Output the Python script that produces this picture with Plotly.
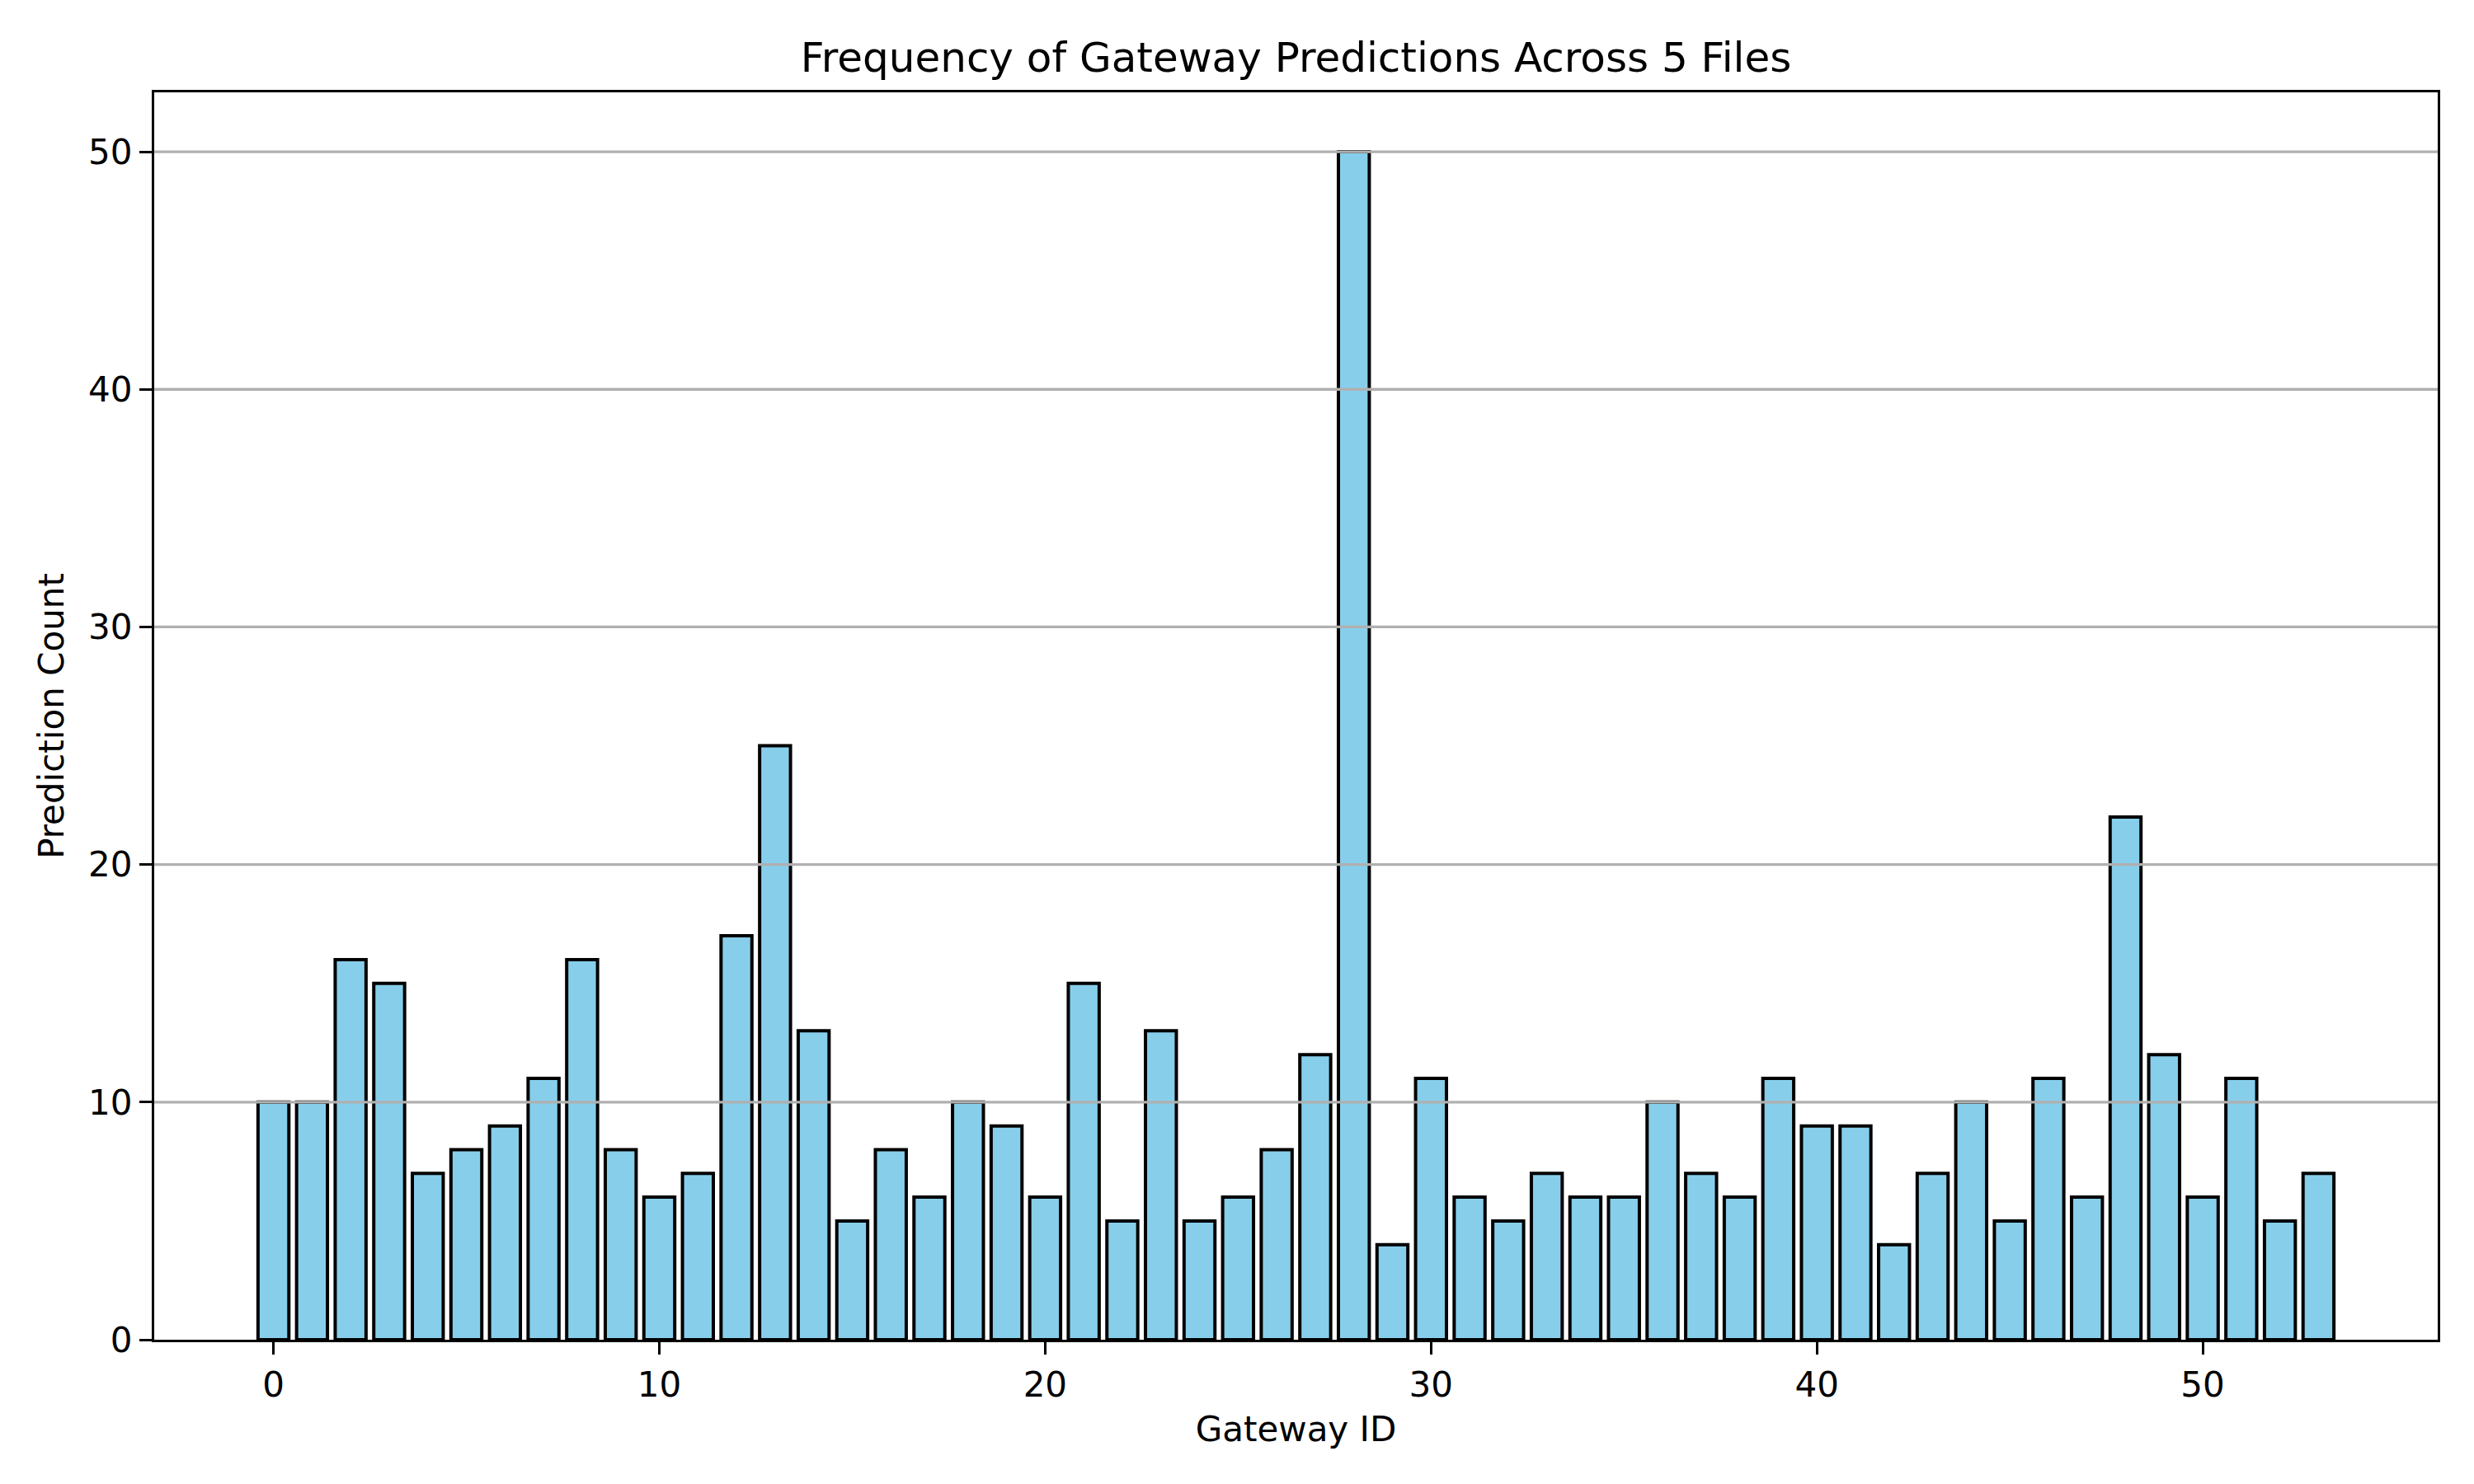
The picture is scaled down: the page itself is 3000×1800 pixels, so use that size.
import plotly.graph_objects as go

gateway_ids = list(range(54))
contagens = [10, 10, 16, 15, 7, 8, 9, 11, 16, 8,
             6, 7, 17, 25, 13, 5, 8, 6, 10, 9,
             6, 15, 5, 13, 5, 6, 8, 12, 50, 4,
             11, 6, 5, 7, 6, 6, 10, 7, 6, 11,
             9, 9, 4, 7, 10, 5, 11, 6, 22, 12,
             6, 11, 5, 7]
ticks_x = [0, 10, 20, 30, 40, 50]
ticks_y = [0, 10, 20, 30, 40, 50]

fig = go.Figure()
fig.add_trace(go.Bar(x=gateway_ids, y=contagens, width=0.8,
                     marker=dict(color="#87CEEB", line=dict(color="black", width=4))))

# grade horizontal por cima das barras (como no matplotlib)
for v in ticks_y[1:]:
    fig.add_shape(type="line", xref="paper", x0=0, x1=1, yref="y", y0=v, y1=v,
                  line=dict(color="#b0b0b0", width=3.3), layer="above")

fonte = dict(family="DejaVu Sans", size=42, color="black")
eixo = dict(showline=True, linecolor="black", linewidth=3.3, mirror=True,
            ticks="outside", ticklen=15, tickwidth=3.3, tickcolor="black",
            tickfont=fonte, zeroline=False, showgrid=False, layer="above traces")

# a pagina tem margem de 8px no body, compensa aqui
fig.update_layout(
    width=3000, height=1800,
    margin=dict(l=179, r=52, t=104, b=183),
    plot_bgcolor="white", paper_bgcolor="white",
    showlegend=False, font=fonte,
    title=dict(text="Frequency of Gateway Predictions Across 5 Files",
               font=dict(family="DejaVu Sans", size=50, color="black"),
               x=0.5, xanchor="center", xref="paper",
               y=1 - 79 / 1800, yanchor="bottom", yref="container"),
    xaxis=dict(eixo, range=[-3.09, 56.09], tickvals=ticks_x,
               title=dict(text="Gateway ID", font=fonte, standoff=17)),
    yaxis=dict(eixo, range=[0, 52.5], tickvals=ticks_y,
               title=dict(text="Prediction Count", font=fonte, standoff=17)),
)

fig.write_html("out.html")
